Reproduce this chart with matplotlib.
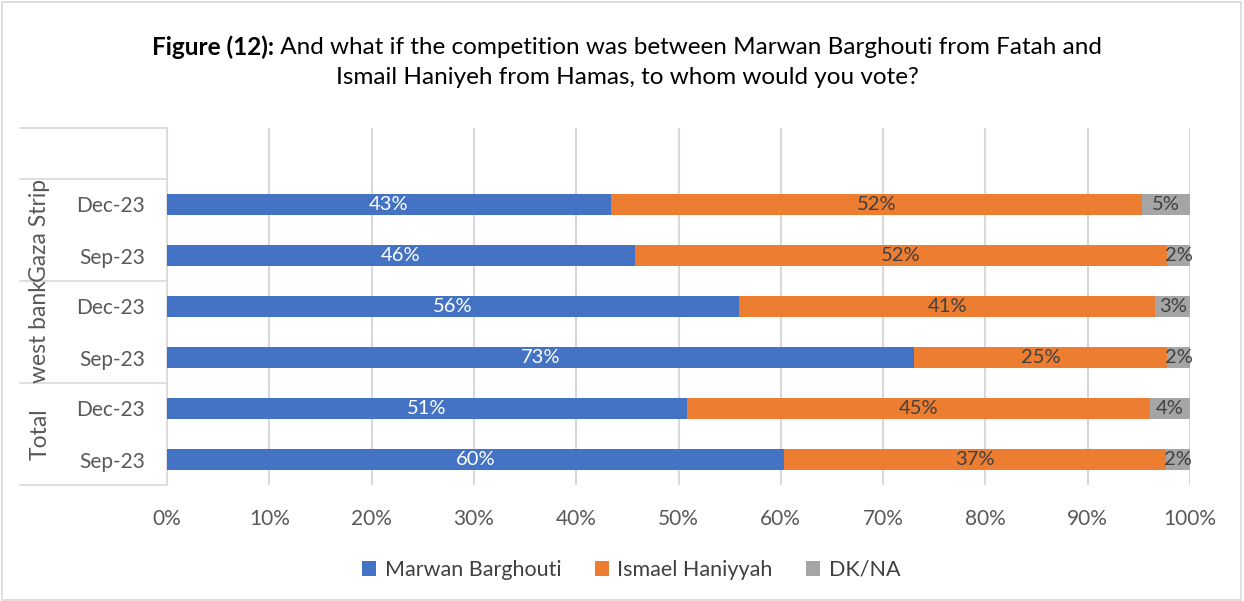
import matplotlib
matplotlib.use("Agg")
import matplotlib.pyplot as plt
from matplotlib.patches import Rectangle
from matplotlib.lines import Line2D

# ---- data (bottom to top) ----
groups = ["Total", "west bank", "Gaza Strip"]
periods = ["Sep-23", "Dec-23", "Sep-23", "Dec-23", "Sep-23", "Dec-23"]
barghouti = [60.3, 50.8, 73.0, 55.9, 45.7, 43.4]
haniyyah = [37.4, 45.3, 24.8, 40.7, 52.1, 51.9]
dkna = [2.3, 3.9, 2.2, 3.4, 2.2, 4.7]
series_names = ["Marwan Barghouti", "Ismael Haniyyah", "DK/NA"]
colors = ["#4472C4", "#ED7D31", "#A5A5A5"]
label_colors = ["white", "#404040", "#404040"]
xticks = [0, 10, 20, 30, 40, 50, 60, 70, 80, 90, 100]

FONT = "Lato"
plt.rcParams["font.family"] = [FONT, "DejaVu Sans"]

W, H = 1244, 601
fig = plt.figure(figsize=(W / 100, H / 100), dpi=100)
ax = fig.add_axes([167 / W, 1 - 485 / H, (1190 - 167) / W, (485 - 128) / H])

ypos = list(range(len(periods)))
series = [barghouti, haniyyah, dkna]
lefts = [0.0] * len(ypos)
handles = []
for vals, col, lc, name in zip(series, colors, label_colors, series_names):
    bars = ax.barh(ypos, vals, left=lefts, height=0.4, color=col, label=name, zorder=3)
    handles.append(bars)
    for y, l, v in zip(ypos, lefts, vals):
        ax.text(l + v / 2, y, f"{v:.0f}%", ha="center", va="center",
                color=lc, fontsize=14.5, zorder=4)
    lefts = [a + b for a, b in zip(lefts, vals)]

ax.set_xlim(0, 100)
ax.set_ylim(-0.5, 6.5)
ax.set_xticks(xticks)
ax.set_xticklabels([f"{t}%" for t in xticks], color="#595959", fontsize=15)
ax.set_yticks(ypos)
ax.set_yticklabels(periods, color="#595959", fontsize=15)
ax.tick_params(axis="both", length=0)
ax.tick_params(axis="x", pad=17)
ax.tick_params(axis="y", pad=16)
ax.grid(axis="x", color="#D9D9D9", linewidth=1.5, zorder=0)
for s in ["top", "right", "bottom"]:
    ax.spines[s].set_visible(False)
ax.spines["left"].set_color("#D9D9D9")
ax.spines["left"].set_linewidth(1.2)

# category table lines on the left
x0 = (20 - 167) / (1190 - 167)
for yb in [-0.5, 1.5, 3.5, 5.5, 6.5]:
    ax.add_line(Line2D([x0, 0], [yb, yb], color="#D9D9D9", linewidth=1.2,
                       transform=ax.get_yaxis_transform(), clip_on=False))
# group labels
gx = (40 - 167) / (1190 - 167)
for i, g in enumerate(groups):
    ax.text(gx, 2 * i + 0.5, g, rotation=90, ha="center", va="center",
            color="#595959", fontsize=16.5, transform=ax.get_yaxis_transform())

# legend
leg = fig.legend(handles=handles, labels=series_names, loc="center",
                 bbox_to_anchor=(631 / W, 1 - 570 / H), ncol=3, frameon=False,
                 fontsize=15.5, handlelength=0.65, handleheight=0.65,
                 columnspacing=1.55, handletextpad=0.4)
for t in leg.get_texts():
    t.set_color("#404040")

# title with bold prefix
fig.canvas.draw()
r = fig.canvas.get_renderer()
tsize = 17.5
part1 = fig.text(0, 1 - 47 / H, "Figure (12):", fontweight="bold", fontsize=tsize,
                 va="center", ha="left", color="black")
part2 = fig.text(0, 1 - 47 / H, " And what if the competition was between Marwan Barghouti from Fatah and",
                 fontsize=tsize, va="center", ha="left", color="black")
w1 = part1.get_window_extent(r).width
w2 = part2.get_window_extent(r).width
start = 627 - (w1 + w2) / 2
part1.set_x(start / W)
part2.set_x((start + w1) / W)
fig.text(627 / W, 1 - 78 / H, "Ismail Haniyeh from Hamas, to whom would you vote?",
         fontsize=tsize, va="center", ha="center", color="black")

# outer frame
fig.add_artist(Rectangle((2 / W, 1 / H), (W - 5) / W, (H - 3) / H, transform=fig.transFigure,
                         fill=False, edgecolor="#D9D9D9", linewidth=1.2))

fig.savefig("out.png", dpi=100)
